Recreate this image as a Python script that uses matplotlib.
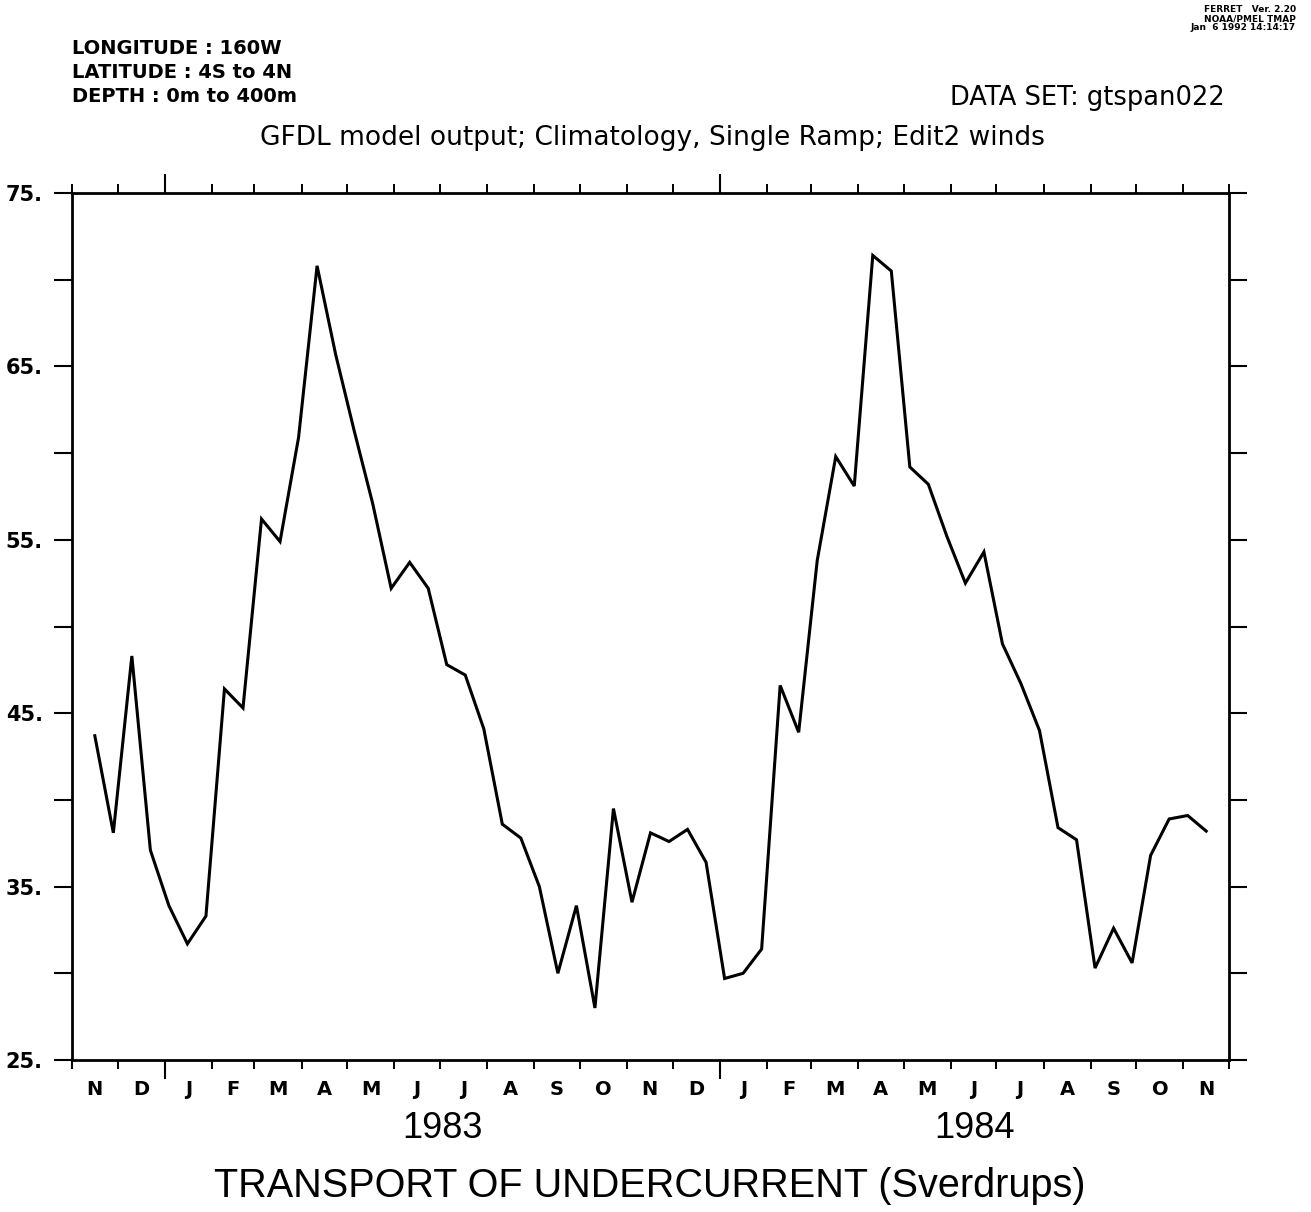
import pandas as pd
import matplotlib
matplotlib.use('Agg')
import matplotlib.pyplot as plt
import matplotlib.dates as mdates
from matplotlib.ticker import FixedLocator, FuncFormatter
from datetime import datetime

# Transport of the undercurrent at 160W, 4S-4N, 0-400m (Sverdrups)
transport = [
    43.7, 38.1, 48.3, 37.1, 33.9, 31.7, 33.3, 46.4, 45.3, 56.2,
    54.9, 60.9, 70.8, 65.7, 61.3, 57.1, 52.2, 53.7, 52.2, 47.8,
    47.2, 44.1, 38.6, 37.8, 35.0, 30.0, 33.9, 28.0, 39.5, 34.1,
    38.1, 37.6, 38.3, 36.4, 29.7, 30.0, 31.4, 46.6, 43.9, 53.8,
    59.8, 58.1, 71.4, 70.5, 59.2, 58.2, 55.2, 52.5, 54.3, 49.0,
    46.7, 44.0, 38.4, 37.7, 30.3, 32.6, 30.6, 36.8, 38.9, 39.1,
    38.2,
]
first_time = '1982-11-16'
last_time = '1984-11-16'
times = pd.date_range(first_time, last_time, periods=len(transport))

month_letters = ['N', 'D', 'J', 'F', 'M', 'A', 'M', 'J', 'J', 'A', 'S', 'O', 'N',
                 'D', 'J', 'F', 'M', 'A', 'M', 'J', 'J', 'A', 'S', 'O', 'N']
years = [1983, 1984]
y_major = [25, 35, 45, 55, 65, 75]
y_minor = [30, 40, 50, 60, 70]

t_start = datetime(1982, 11, 1)
t_end = datetime(1984, 12, 1)

W, H = 1311, 1212
fig = plt.figure(figsize=(W / 100, H / 100), dpi=100)
ax = fig.add_axes([72 / W, 1 - 1060 / H, (1229 - 72) / W, (1060 - 193) / H])

ax.plot(times, transport, color='black', linewidth=2.2, solid_joinstyle='miter')

ax.set_xlim(t_start, t_end)
ax.set_ylim(25, 75)

for s in ax.spines.values():
    s.set_linewidth(2.0)

# x ticks: months short, years long, on top and bottom
ax.xaxis.set_major_locator(mdates.YearLocator())
ax.xaxis.set_minor_locator(mdates.MonthLocator())
ax.xaxis.set_major_formatter(FuncFormatter(lambda v, p: ''))
ax.xaxis.set_minor_formatter(FuncFormatter(lambda v, p: ''))
ax.tick_params(axis='x', which='major', direction='out', length=14, width=1.5,
               top=True, bottom=True)
ax.tick_params(axis='x', which='minor', direction='out', length=6.5, width=1.4,
               top=True, bottom=True)

# y ticks on both sides
ax.yaxis.set_major_locator(FixedLocator(y_major))
ax.yaxis.set_minor_locator(FixedLocator(y_minor))
ax.yaxis.set_major_formatter(FuncFormatter(lambda v, p: f'{int(v)}.'))
ax.tick_params(axis='y', which='both', direction='out', length=13, width=1.5,
               left=True, right=True, pad=8)
for lab in ax.get_yticklabels():
    lab.set_fontweight('bold')
    lab.set_fontsize(15)

# month letters centred in each month
months = pd.date_range(t_start, periods=len(month_letters), freq='MS')
xt = ax.get_xaxis_transform()
for m, letter in zip(months, month_letters):
    mid = m + (m + pd.offsets.MonthBegin(1) - m) / 2
    ax.text(mid, -0.0346, letter, transform=xt, ha='center', va='center',
            fontsize=14, fontweight='bold')

# year labels centred on the visible part of each year
for yr in years:
    a = max(pd.Timestamp(yr, 1, 1), pd.Timestamp(t_start))
    b = min(pd.Timestamp(yr + 1, 1, 1), pd.Timestamp(t_end))
    ax.text(a + (b - a) / 2, -0.079, str(yr), transform=xt, ha='center', va='center',
            fontsize=26, family='Liberation Sans')

fig.text(650 / W, 1 - 1186 / H, 'TRANSPORT OF UNDERCURRENT (Sverdrups)',
         ha='center', va='center', fontsize=28.5, family='Liberation Sans')

# header
hdr = ['LONGITUDE : 160W', 'LATITUDE : 4S to 4N', 'DEPTH : 0m to 400m']
for i, line in enumerate(hdr):
    fig.text(72 / W, 1 - (49 + 24 * i) / H, line, ha='left', va='center',
             fontsize=14, fontweight='bold')
fig.text(1225 / W, 1 - 98 / H, 'DATA SET: gtspan022', ha='right', va='center',
         fontsize=18.5)
fig.text(652 / W, 1 - 138 / H, 'GFDL model output; Climatology, Single Ramp; Edit2 winds',
         ha='center', va='center', fontsize=19)

ferret = ['FERRET   Ver. 2.20', 'NOAA/PMEL TMAP', 'Jan  6 1992 14:14:17']
for i, line in enumerate(ferret):
    fig.text(1296 / W, 1 - (9 + 9.5 * i) / H, line, ha='right', va='center',
             fontsize=6.5, fontweight='bold')

fig.savefig('out.png', dpi=100, facecolor='white')
